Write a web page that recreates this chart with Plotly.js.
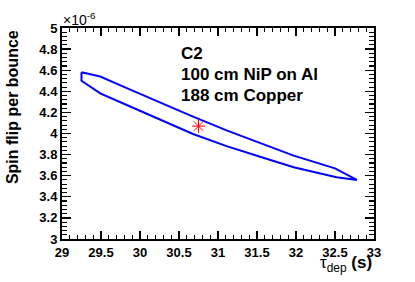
<!DOCTYPE html>
<html><head><meta charset="utf-8">
<script src="https://cdn.plot.ly/plotly-3.0.1.min.js"></script>
<style>html,body{margin:0;padding:0;background:#fff;}</style>
</head><body>
<div id="chart" style="width:415px;height:282px;"></div>
<script>
// contour (tau_dep in s, spin flip per bounce in units of 1e-6)
const contourX = [29.25, 29.49, 29.83, 30.26, 30.68, 31.11, 31.54, 31.97, 32.50, 32.78,
                  32.52, 31.97, 31.54, 31.11, 30.68, 30.26, 29.83, 29.49, 29.25, 29.25];
const contourY = [4.58, 4.54, 4.43, 4.29, 4.16, 4.03, 3.91, 3.79, 3.67, 3.56,
                  3.585, 3.68, 3.78, 3.88, 3.995, 4.128, 4.27, 4.38, 4.50, 4.58];
const bestX = [30.75];
const bestY = [4.07];
const labelLines = ["C2", "100 cm NiP on Al", "188 cm Copper"];
const xTickVals = [29, 29.5, 30, 30.5, 31, 31.5, 32, 32.5, 33];
const xTickText = ["29", "29.5", "30", "30.5", "31", "31.5", "32", "32.5", "33"];
const yTickVals = [3, 3.2, 3.4, 3.6, 3.8, 4, 4.2, 4.4, 4.6, 4.8, 5];
const yTickText = ["3", "3.2", "3.4", "3.6", "3.8", "4", "4.2", "4.4", "4.6", "4.8", "5"];
const xRange = [29, 33];
const yRange = [3, 5];

const F = "Liberation Sans, Arial, Helvetica, sans-serif";

const traces = [
  {x: contourX, y: contourY, type: 'scatter', mode: 'lines',
   line: {color: 'rgb(0,0,255)', width: 2}, hoverinfo: 'skip'},
  {x: bestX, y: bestY, type: 'scatter', mode: 'markers',
   marker: {symbol: 'asterisk-open', size: 11, color: 'rgb(255,0,0)', line: {color: 'rgb(255,0,0)', width: 1}}},
  // invisible trace carrying the minor-tick overlay axes
  {x: xRange, y: yRange, xaxis: 'x2', yaxis: 'y2', type: 'scatter', mode: 'markers',
   marker: {opacity: 0}, hoverinfo: 'skip'}
];

const axisCommon = {
  showgrid: false, zeroline: false, showline: true, linecolor: 'black', linewidth: 2,
  mirror: 'allticks', ticks: 'inside', tickcolor: 'black', tickwidth: 1.3,
  tickmode: 'array',
  tickfont: {family: F, size: 13, color: 'black', weight: 700}
};
const minorCommon = {
  showgrid: false, zeroline: false, showline: true, linecolor: 'black', linewidth: 2,
  mirror: 'allticks', ticks: 'inside', tickcolor: 'black', tickwidth: 1.1,
  tickmode: 'linear', showticklabels: false, fixedrange: true
};

const annotations = [
  {xref: 'paper', yref: 'paper', x: -0.003, y: 1.0, xanchor: 'left', yanchor: 'bottom', yshift: -2,
   text: '×10<sup>-6</sup>', showarrow: false, font: {family: F, size: 14, color: 'black'}},
  {xref: 'paper', yref: 'paper', x: -0.16, y: 1.0, xanchor: 'center', yanchor: 'top', textangle: -90,
   text: 'Spin flip per bounce', showarrow: false, font: {family: F, size: 16, color: 'black', weight: 700}},
  {xref: 'paper', yref: 'paper', x: 1.0, y: -0.055, xanchor: 'right', yanchor: 'top',
   text: 'τ<sub>dep</sub> <b>(s)</b>', showarrow: false,
   font: {family: F, size: 17, color: 'black'}}
];
const labelY = [0.881, 0.779, 0.682];
labelLines.forEach((t, i) => {
  annotations.push({xref: 'paper', yref: 'paper', x: 0.375, y: labelY[i], xanchor: 'left', yanchor: 'middle',
    text: '<b>' + t + '</b>', showarrow: false, font: {family: F, size: 17, color: 'black', weight: 700}});
});

const layout = {
  width: 415, height: 282,
  margin: {l: 62, r: 41, t: 28, b: 43, pad: 0},
  paper_bgcolor: 'white', plot_bgcolor: 'white',
  showlegend: false,
  xaxis: Object.assign({}, axisCommon, {range: xRange, ticklen: 8,
    tickvals: xTickVals, ticktext: xTickText.map(s => '<b>' + s + '</b>')}),
  yaxis: Object.assign({}, axisCommon, {range: yRange, ticklen: 9,
    tickvals: yTickVals, ticktext: yTickText.map(s => '<b>' + s + '</b>')}),
  xaxis2: Object.assign({}, minorCommon, {range: xRange, overlaying: 'x', anchor: 'y2', side: 'bottom',
    tick0: 29, dtick: 0.1, ticklen: 4}),
  yaxis2: Object.assign({}, minorCommon, {range: yRange, overlaying: 'y', anchor: 'x2', side: 'left',
    tick0: 3, dtick: 0.04, ticklen: 5}),
  annotations: annotations
};

Plotly.newPlot('chart', traces, layout, {displayModeBar: false, staticPlot: true});
</script>
</body></html>
